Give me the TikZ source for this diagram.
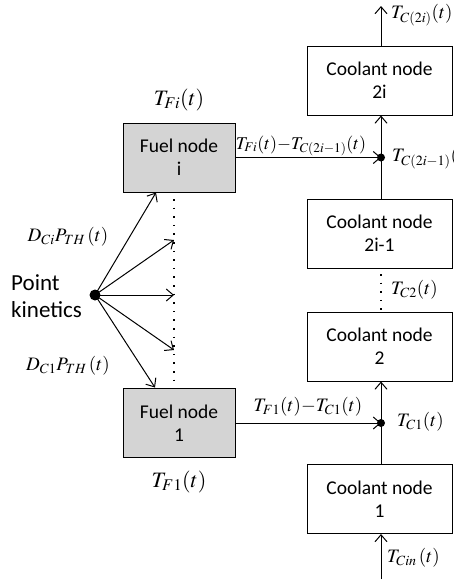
\documentclass[tikz,border=0pt]{standalone}
\usepackage[no-math]{fontspec}
\usepackage{mathptmx}
\setmainfont{Carlito}
\usetikzlibrary{arrows.meta}
\begin{document}
\begin{tikzpicture}[x=1pt,y=-1pt,
  box/.style={draw,line width=1pt,minimum width=145pt,minimum height=69pt,align=center,font=\fontsize{19.5}{23}\selectfont,inner sep=0pt},
  fuelbox/.style={box,fill=black!17,minimum width=112pt},
  lbl/.style={font=\fontsize{19}{22}\selectfont,inner sep=1pt},
  biglbl/.style={font=\fontsize{22}{25}\selectfont,inner sep=1pt},
  conn/.style={line width=1pt,-{Straight Barb[length=7pt,width=12pt,line width=1pt]}},
  dotline/.style={line width=1.6pt,dash pattern=on 1.6pt off 7pt},
  blob/.style={circle,fill=black,inner sep=0pt}
]
\useasboundingbox (0,0) rectangle (454,581);
% boxes
\node[fuelbox] (fi) at (179,157.5) {Fuel node\\i};
\node[fuelbox] (f1) at (179,423) {Fuel node\\1};
\node[box] (c2i) at (379.5,80.5) {Coolant node\\2i};
\node[box] (c2im) at (379.5,233.5) {Coolant node\\2i-1};
\node[box] (c2) at (379.5,346.5) {Coolant node\\2};
\node[box] (c1) at (379.5,499) {Coolant node\\1};
% junctions
\node[blob,minimum size=8pt] (ji) at (381,157.5) {};
\node[blob,minimum size=8pt] (j1) at (381,423) {};
\node[blob,minimum size=11pt] (pk) at (95,295) {};
% coordinates
\coordinate (a1) at (156,192.5);
\coordinate (a2) at (174,240);
\coordinate (a3) at (174,295);
\coordinate (a4) at (174,350);
\coordinate (a5) at (155,387.5);
\coordinate (top) at (381,6);
\coordinate (bot) at (381,579);
\coordinate (d1) at (174,199);
\coordinate (d2) at (174,388);
\coordinate (e1) at (381,274);
\coordinate (e2) at (381,311);
% connectors
\draw[conn] (pk.center) -- (a1);
\draw[conn] (pk.center) -- (a2);
\draw[conn] (pk.center) -- (a3);
\draw[conn] (pk.center) -- (a4);
\draw[conn] (pk.center) -- (a5);
\draw[conn] (fi.east) -- (ji.center);
\draw[conn] (f1.east) -- (j1.center);
\draw[conn] (c2im.north -| ji) -- (c2i.south -| ji);
\draw[conn] (c1.north -| j1) -- (c2.south -| j1);
\draw[conn] (c2i.north -| top) -- (top);
\draw[conn] (bot) -- (c1.south -| bot);
\draw[dotline] (d1) -- (d2);
\draw[dotline] (e1) -- (e2);
% labels
\node[align=left,anchor=west,font=\fontsize{23}{27}\selectfont,inner sep=0pt] (pkl) at (11,296) {Point\\kinetics};
\node[biglbl] (lfi) at (179,100) {$T_{Fi}(t)$};
\node[biglbl] (lf1) at (179,482) {$T_{F1}(t)$};
\node[lbl] (ldi) at (68,237) {$D_{Ci}P_{TH}\,(t)$};
\node[lbl] (ld1) at (68,366) {$D_{C1}P_{TH}\,(t)$};
\node[lbl,font=\fontsize{18}{21}\selectfont] (lhi) at (301,146) {$T_{Fi}(t){-}T_{C(2i-1)}(t)$};
\node[lbl] (lh1) at (308,407) {$T_{F1}(t){-}T_{C1}(t)$};
\node[lbl,anchor=west] (lci) at (391,158) {$T_{C(2i-1)}(t)$};
\node[lbl,anchor=west] (lc2) at (390,290) {$T_{C2}(t)$};
\node[lbl,anchor=west] (lc2i) at (390,15) {$T_{C(2i)}(t)$};
\node[lbl,anchor=west] (lc1) at (396,422) {$T_{C1}(t)$};
\node[lbl,anchor=west] (lcin) at (386,558) {$T_{Cin}\,(t)$};
\end{tikzpicture}
\end{document}
